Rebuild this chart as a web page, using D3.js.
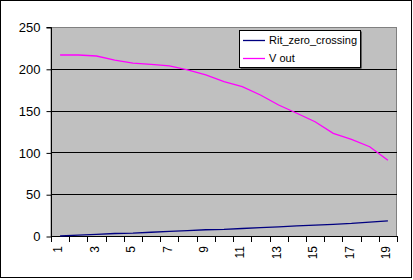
<!DOCTYPE html>
<html>
<head>
<meta charset="utf-8">
<script src="https://cdn.jsdelivr.net/npm/d3@7"></script>
<style>
  body { margin: 0; background: #fff; }
  svg { display: block; font-family: "Liberation Sans", Arial, sans-serif; }
</style>
</head>
<body>
<div id="chart"></div>
<script>
// chart data
const categories = d3.range(1, 20);
const ritZeroCrossing = [0, 1, 2, 3, 3.5, 4.5, 5.5, 6.5, 7.5, 8, 9, 10, 11, 12, 13, 14, 15, 16.5, 18];
const vOut = [216.5, 216.5, 215.3, 210.5, 206.8, 205.4, 203.5, 198.6, 192.6, 184.6, 178.6, 168.7, 156.7, 146.8, 136.7, 122.8, 115.6, 106.8, 90.5];
const yTicks = [0, 50, 100, 150, 200, 250];
const xTickLabels = categories.filter(d => d % 2 === 1);
const seriesNames = ["Rit_zero_crossing", "V out"];
const seriesColors = ["#000080", "#ff00ff"];

const W = 413, H = 280;
const plot = { left: 51, top: 27, right: 397, bottom: 236 };

const svg = d3.select("#chart").append("svg")
    .attr("width", W)
    .attr("height", H);

// outer chart border
svg.append("rect")
    .attr("x", 0.5).attr("y", 0.5)
    .attr("width", W - 2).attr("height", H - 3)
    .attr("fill", "#fff")
    .attr("stroke", "#000");

// scales
const x = d3.scaleBand().domain(categories).range([plot.left, plot.right]);
const y = d3.scaleLinear().domain([0, 250]).range([plot.bottom, plot.top]);
const xc = d => x(d) + x.bandwidth() / 2;

// plot area
svg.append("rect")
    .attr("x", plot.left).attr("y", plot.top + 0.5)
    .attr("width", plot.right - plot.left - 0.5)
    .attr("height", plot.bottom - plot.top)
    .attr("fill", "#c0c0c0")
    .attr("stroke", "#808080");

// gridlines
svg.append("g")
    .selectAll("line")
    .data(yTicks.filter(d => d > 0 && d < 250))
    .join("line")
    .attr("x1", plot.left).attr("x2", plot.right)
    .attr("y1", d => Math.round(y(d)) + 0.5)
    .attr("y2", d => Math.round(y(d)) + 0.5)
    .attr("stroke", "#000");

// y axis
const yAxis = svg.append("g")
    .attr("transform", `translate(${plot.left + 0.5},0.5)`)
    .call(d3.axisLeft(y).tickValues(yTicks).tickSize(5).tickPadding(6));
yAxis.select(".domain").attr("stroke", "#000").attr("d", `M-5,${plot.top}H0V${plot.bottom}`);
yAxis.selectAll("text").attr("font-size", "13px").attr("fill", "#000")
    .attr("font-family", "Liberation Sans, Arial, sans-serif");

// x axis, ticks between categories
const xAxisG = svg.append("g");
xAxisG.append("line")
    .attr("x1", plot.left).attr("x2", plot.right + 1)
    .attr("y1", plot.bottom + 0.5).attr("y2", plot.bottom + 0.5)
    .attr("stroke", "#000");
xAxisG.selectAll("line.tick")
    .data(categories.concat([20]))
    .join("line")
    .attr("class", "tick")
    .attr("x1", d => Math.round(d === 20 ? plot.right : x(d)) + 0.5)
    .attr("x2", d => Math.round(d === 20 ? plot.right : x(d)) + 0.5)
    .attr("y1", plot.bottom).attr("y2", plot.bottom + 6)
    .attr("stroke", "#000");
xAxisG.selectAll("text")
    .data(xTickLabels)
    .join("text")
    .attr("transform", d => `translate(${xc(d) - 2},${plot.bottom + 10}) rotate(-90)`)
    .attr("dy", "0.35em")
    .attr("text-anchor", "end")
    .attr("font-size", "12px")
    .text(d => d);

// lines
const line = d3.line().x((d, i) => xc(categories[i])).y(d => y(d));
[ritZeroCrossing, vOut].forEach((series, k) => {
    svg.append("path")
        .datum(series)
        .attr("d", line)
        .attr("fill", "none")
        .attr("stroke", seriesColors[k])
        .attr("stroke-width", 1.3);
});

// legend
const legend = svg.append("g").attr("transform", "translate(239,30)");
legend.append("rect")
    .attr("x", 1.5).attr("y", 1.5).attr("width", 121).attr("height", 37)
    .attr("fill", "#000");
legend.append("rect")
    .attr("x", 0.5).attr("y", 0.5).attr("width", 121).attr("height", 37)
    .attr("fill", "#fff").attr("stroke", "#000");
seriesNames.forEach((name, i) => {
    const ly = 10.5 + i * 18;
    legend.append("line")
        .attr("x1", 4).attr("x2", 26)
        .attr("y1", ly).attr("y2", ly)
        .attr("stroke", seriesColors[i])
        .attr("stroke-width", 1.3);
    legend.append("text")
        .attr("x", 30).attr("y", ly)
        .attr("dy", "0.35em")
        .attr("font-size", "11px")
        .text(name);
});
</script>
</body>
</html>
